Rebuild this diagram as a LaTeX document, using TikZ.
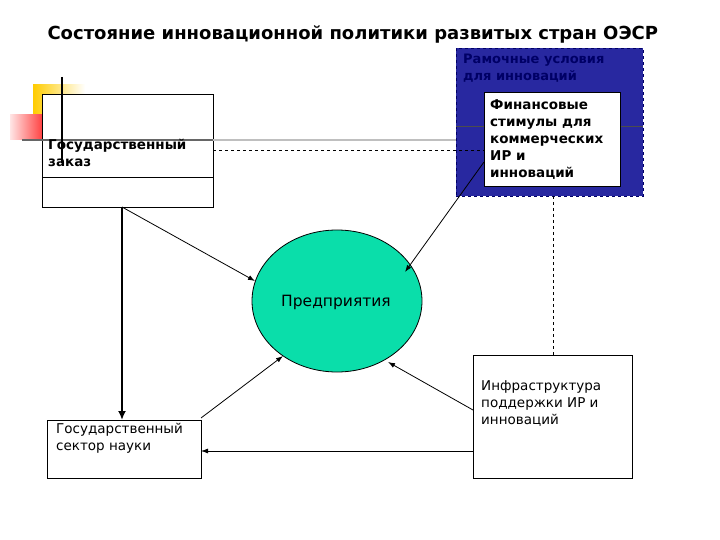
\documentclass[tikz,border=0pt]{standalone}
\usepackage{fontspec}
\setmainfont{DejaVu Sans}
\usetikzlibrary{arrows.meta,shapes.geometric}
\definecolor{entgreen}{RGB}{10,222,170}
\definecolor{navy}{RGB}{40,40,160}
\begin{document}
\begin{tikzpicture}[x=1pt,y=-1pt,
  box/.style={draw,thick,fill=white},
  arr/.style={thick,-{Latex[length=7pt,width=5pt]}},
  dsh/.style={dashed,thin}]
\useasboundingbox[fill=white] (0,0) rectangle (720,540);
% decoration
\shade[left color=yellow!60!orange,right color=white] (33,85) rectangle (85,120);
\shade[left color=red!10,right color=red] (10,115) rectangle (55,140);
\shade[left color=blue!80,right color=white] (55,120) rectangle (100,140);
\fill[blue!80] (42,140) rectangle (55,155);
\node[anchor=west,font=\bfseries\fontsize{18}{20}\selectfont] (title) at (44,34) {Состояние инновационной политики развитых стран ОЭСР};
% blue frame
\node[draw=blue!40!black,dashed,fill=navy,minimum width=187pt,minimum height=148pt,anchor=north west,inner sep=0] (frame) at (456,48) {};
\node[anchor=north west,align=left,text=blue!40!black,font=\bfseries\fontsize{13}{17}\selectfont,inner sep=0] (framelbl) at (463,54) {Рамочные условия\\для инноваций};
\draw[thick,black!70] (456,126) -- (643,126);
\node[box,minimum width=136pt,minimum height=94pt,anchor=north west,inner sep=0] (fin) at (484,92) {};
\node[anchor=north west,align=left,font=\bfseries\fontsize{13.5}{17}\selectfont,inner sep=0] (fintxt) at (490,99) {Финансовые\\стимулы для\\коммерческих\\ИР и\\инноваций};
% gov order
\node[box,minimum width=171pt,minimum height=113pt,anchor=north west,inner sep=0] (gov) at (42,94) {};
\draw[thick] (42,177) -- (213,177);
\draw[line width=2pt,black!60] (22,140) -- (213,140);
\draw[line width=1.5pt,black!25] (213,140) -- (456,140);
\draw[line width=2pt] (62,77) -- (62,163);
\node[anchor=north west,align=left,font=\bfseries\fontsize{13.5}{17}\selectfont,inner sep=0] (govtxt) at (48,139) {Государственный\\заказ};
\coordinate (d1) at (213,150);
\coordinate (d2) at (484,150);
\draw[dsh] (d1) -- (d2);
% ellipse
\node[draw,thick,ellipse,fill=entgreen,minimum width=170pt,minimum height=142pt,inner sep=0] (ent) at (337,301) {};
\node[font=\fontsize{15.5}{18}\selectfont] (enttxt) at (336,302) {Предприятия};
% science
\node[box,minimum width=154pt,minimum height=58pt,anchor=north west,inner sep=0] (sci) at (47,420) {};
\node[anchor=north west,align=left,font=\fontsize{13.5}{17}\selectfont,inner sep=0] (scitxt) at (56,423) {Государственный\\сектор науки};
% infra
\node[box,minimum width=159pt,minimum height=123pt,anchor=north west,inner sep=0] (inf) at (473,355) {};
\node[anchor=north west,align=left,font=\fontsize{13.5}{17}\selectfont,inner sep=0] (inftxt) at (481,380) {Инфраструктура\\поддержки ИР и\\инноваций};
\coordinate (v1) at (553,196);
\coordinate (v2) at (553,355);
\draw[dsh] (v1) -- (v2);
% arrows
\draw[line width=2.5pt,-{Latex[length=9pt,width=8pt]}] (122,207) -- (122,420);
\draw[arr] (122,207) -- (255,281);
\draw[arr] (484,162) -- (405,272);
\draw[arr] (201,418) -- (283,356);
\draw[arr] (473,410) -- (388,362);
\draw[arr] (473,451) -- (201,451);
\end{tikzpicture}
\end{document}
